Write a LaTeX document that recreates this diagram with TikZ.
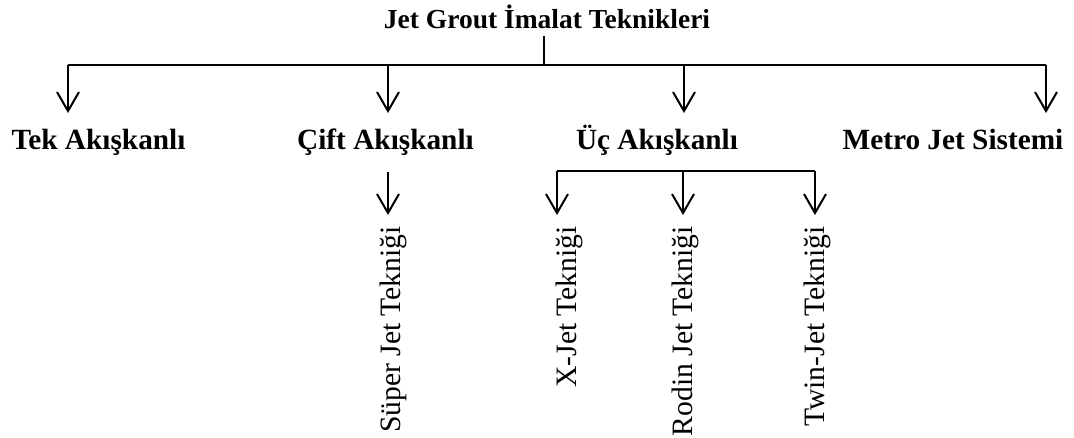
\documentclass[tikz,border=0pt]{standalone}
\usepackage{fontspec}
\setmainfont{Liberation Serif}
\usetikzlibrary{arrows.meta}

\tikzset{
  title/.style={font=\bfseries\fontsize{27.5}{30}\selectfont, inner sep=0pt, anchor=base},
  kind/.style={font=\bfseries\fontsize{29.3}{32}\selectfont, inner sep=0pt, anchor=base},
  method/.style={font=\fontsize{29.6}{32}\selectfont, inner sep=0pt, rotate=90, anchor=base east},
  bar/.style={line width=1.6pt},
  branch/.style={line width=2pt, -{Straight Barb[length=19pt,width=22pt,line width=2pt]}},
}

\begin{document}
\begin{tikzpicture}[x=1pt,y=-1pt]
  \useasboundingbox (0,0) rectangle (1074,437);

  % top heading
  \node[title] (t) at (547,28) {Jet Grout İmalat Teknikleri};

  % first level
  \node[kind] (tek)   at (98.5,149) {Tek Akışkanlı};
  \node[kind] (cift)  at (385.5,149) {Çift Akışkanlı};
  \node[kind] (uc)    at (657,149) {Üç Akışkanlı};
  \node[kind] (metro) at (953,149) {Metro Jet Sistemi};

  % second level, set vertically
  \node[method] (super) at (400,226) {Süper Jet Tekniği};
  \node[method] (xjet)  at (576,226) {X-Jet Tekniği};
  \node[method] (rodin) at (692,226) {Rodin Jet Tekniği};
  \node[method] (twin)  at (824,226) {Twin-Jet Tekniği};

  % junction points of the main bar
  \coordinate (hub) at (544,65);
  \coordinate (b1) at (68,65);
  \coordinate (b2) at (388,65);
  \coordinate (b3) at (684,65);
  \coordinate (b4) at (1046,65);
  % arrow tips above the first level
  \coordinate (e1) at (68,113);
  \coordinate (e2) at (388,113);
  \coordinate (e3) at (684,113);
  \coordinate (e4) at (1046,113);

  \draw[bar] ([yshift=-7pt]t.south -| hub) -- (hub);
  \draw[bar] (b1) -- (b4);
  \draw[branch] (b1) -- (e1);
  \draw[branch] (b2) -- (e2);
  \draw[branch] (b3) -- (e3);
  \draw[branch] (b4) -- (e4);

  % branch under Çift Akışkanlı
  \coordinate (s0) at (388,172);
  \coordinate (s1) at (388,215);
  \draw[branch] (s0) -- (s1);

  % branches under Üç Akışkanlı
  \coordinate (u1) at (557,171);
  \coordinate (u2) at (683,171);
  \coordinate (u3) at (815,171);
  \coordinate (v1) at (557,215);
  \coordinate (v2) at (683,215);
  \coordinate (v3) at (815,215);
  \draw[bar] (u1) -- (u3);
  \draw[branch] (u1) -- (v1);
  \draw[branch] (u2) -- (v2);
  \draw[branch] (u3) -- (v3);
\end{tikzpicture}
\end{document}
